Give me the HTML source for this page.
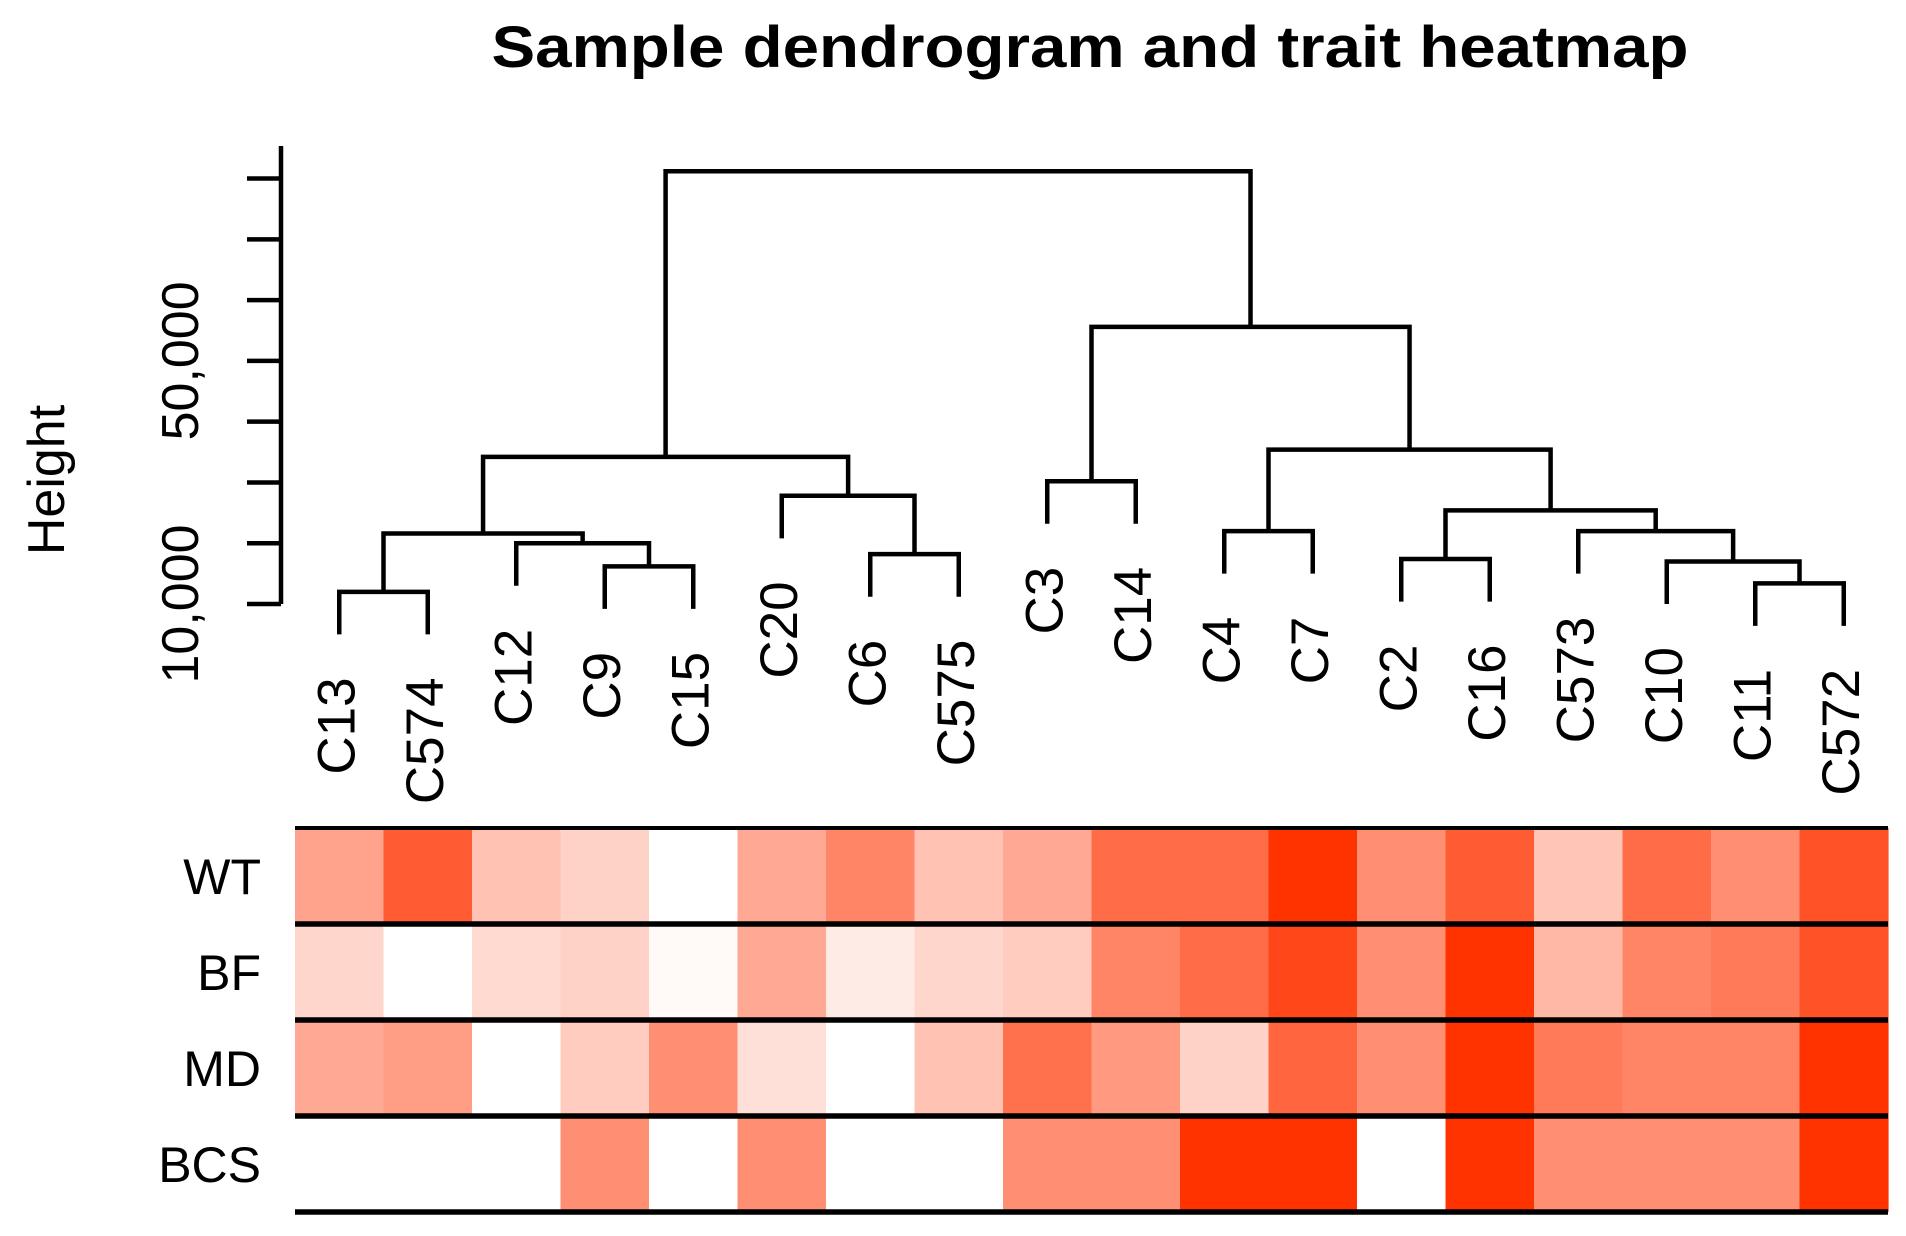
<!DOCTYPE html>
<html><head><meta charset="utf-8"><style>
html,body{margin:0;padding:0;background:#fff;}
svg{display:block;}
text{font-family:"Liberation Sans",Arial,sans-serif;fill:#000;}
</style></head><body>
<svg id="chart" width="1906" height="1236" viewBox="0 0 1906 1236" xmlns="http://www.w3.org/2000/svg">
<text x="1090" y="67" text-anchor="middle" font-size="58" font-weight="bold" textLength="1197" lengthAdjust="spacingAndGlyphs">Sample dendrogram and trait heatmap</text>
<g id="axis"></g>
<g id="dendro"></g>
<g id="labels"></g>
<g id="heat"></g>
</svg>
<script>
const leaves = ["C13","C574","C12","C9","C15","C20","C6","C575","C3","C14","C4","C7","C2","C16","C573","C10","C11","C572"];
const mergeLeft  = [-1, -4, -3, 1, -7, -6, 4, -9, -11, -13, -17, -16, -15, 10, 9, 8, 7];
const mergeRight = [-2, -5, 2, 3, -8, 5, 6, -10, -12, -14, -18, 11, 12, 13, 14, 15, 16];
const mergeHeight = [2000, 6200, 10000, 11600, 8200, 17800, 24200, 20200, 12000, 7400, 3400, 7000, 12000, 15400, 25400, 45600, 71200];
const hang = 7000;
const traits = ["WT","BF","MD","BCS"];
const traitWT  = [.45,.8,.3,.22,0,.42,.6,.3,.42,.72,.72,1,.55,.8,.28,.72,.55,.85];
const traitBF  = [.2,0,.18,.22,.03,.42,.1,.2,.25,.6,.72,.9,.55,1,.35,.6,.65,.85];
const traitMD  = [.42,.48,0,.25,.55,.15,0,.3,.7,.5,.22,.75,.55,1,.65,.6,.6,1];
const traitBCS = [0,0,0,.55,0,.55,0,0,.55,.55,1,1,0,1,.55,.55,.55,1];
const traitValues = [traitWT, traitBF, traitMD, traitBCS];
const tickValues = [0,10000,20000,30000,40000,50000,60000,70000];
const tickLabels = [{v:0,t:"10,000"},{v:40000,t:"50,000"}];

const NS="http://www.w3.org/2000/svg";
const heatL=295, heatR=1888, colW=(heatR-heatL)/leaves.length;
const rowTop=828, rowH=96;
const y0=604, pxPer=60.78/10000;
const xLeaf=i=>heatL+colW*(i+0.5);
const yH=h=>y0-h*pxPer;
function mk(tag,attrs,parent){const e=document.createElementNS(NS,tag);for(const k in attrs)e.setAttribute(k,attrs[k]);parent.appendChild(e);return e;}

const ax=document.getElementById('axis');
let el=mk('line',{x1:281,x2:281,y1:146,y2:yH(0),stroke:'#000','stroke-width':4.5},ax);


tickValues.forEach(v=>{
  const t=mk('line',{x1:247,x2:281,y1:yH(v),y2:yH(v),stroke:'#000','stroke-width':4.5},ax);
  
  
});
tickLabels.forEach(o=>{
  const t=mk('text',{x:0,y:0,'font-size':52,'text-anchor':'middle',transform:`translate(198,${yH(o.v)}) rotate(-90)`},ax);
  t.textContent=o.t;
  
  
});
el=mk('text',{x:0,y:0,'font-size':52,'text-anchor':'middle',transform:'translate(64,480) rotate(-90)'},ax);
el.textContent='Height';



const dg=document.getElementById('dendro');
const mx=[], mh=[];
function nodeX(n){return n<0?xLeaf(-n-1):mx[n-1];}
function nodeY(n,parentH){return n<0?yH(parentH-hang):yH(mh[n-1]);}
for(let k=0;k<mergeHeight.length;k++){
  const a=mergeLeft[k], b=mergeRight[k], h=mergeHeight[k];
  const xa=nodeX(a), xb=nodeX(b);
  mx[k]=(xa+xb)/2; mh[k]=h;
  const p=mk('path',{d:`M${xa},${nodeY(a,h)}V${yH(h)}H${xb}V${nodeY(b,h)}`,fill:'none',stroke:'#000','stroke-width':4.5},dg);
  
  
}
const lg=document.getElementById('labels');
const leafParentH=new Array(leaves.length);
mergeLeft.forEach((n,k)=>{if(n<0)leafParentH[-n-1]=mergeHeight[k];});
mergeRight.forEach((n,k)=>{if(n<0)leafParentH[-n-1]=mergeHeight[k];});
leaves.forEach((s,i)=>{
  const yb=yH(leafParentH[i]-hang)+43;
  const t=mk('text',{x:0,y:0,'font-size':53,'text-anchor':'end',transform:`translate(${xLeaf(i)+15},${yb}) rotate(-90)`},lg);
  t.textContent=s;
  
  
});

const hg=document.getElementById('heat');
function col(v){const r=255,g=Math.round(255-v*(255-51)),b=Math.round(255-v*255);return `rgb(${r},${g},${b})`;}
traitValues.forEach((row,r)=>{
  row.forEach((v,i)=>{
    const c=mk('rect',{x:heatL+colW*i,y:rowTop+rowH*r,width:colW+0.6,height:rowH,fill:col(v)},hg);
    
    
  });
  const t=mk('text',{x:261,y:rowTop+rowH*r+rowH/2+18,'font-size':50,'text-anchor':'end'},hg);
  t.textContent=traits[r];
  
  
});
for(let r=0;r<=traits.length;r++){
  const l=mk('line',{x1:heatL,x2:heatR,y1:rowTop+rowH*r,y2:rowTop+rowH*r,stroke:'#000','stroke-width':r===0?4:5.5},hg);
  
  
}
</script>
</body></html>
